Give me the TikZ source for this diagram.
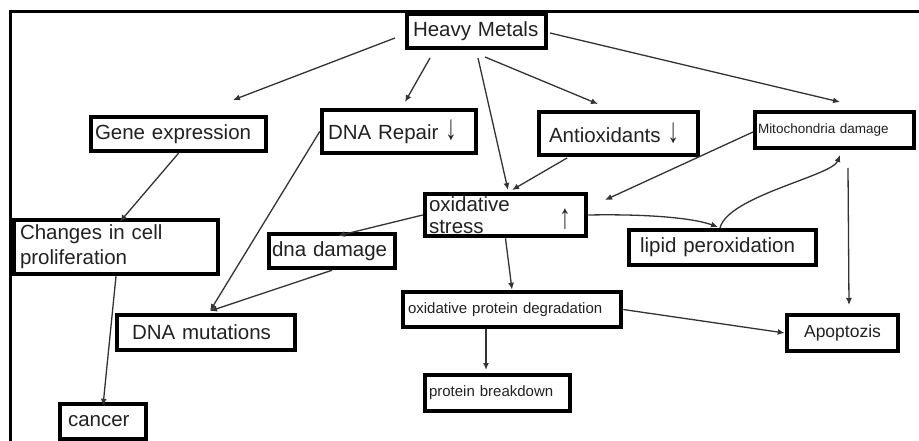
\documentclass[tikz,border=0pt]{standalone}
\usepackage{fontspec}
\setmainfont{Liberation Sans}
\usetikzlibrary{arrows.meta,calc}
\definecolor{txt}{HTML}{222222}
\definecolor{ln}{HTML}{333333}
\newcommand{\dnarrow}{\scalebox{1.1}[1.7]{↓}}
\newcommand{\uparr}{\scalebox{1.1}[1.7]{↑}}
\begin{document}
\begin{tikzpicture}[x=1pt,y=-1pt,
  box/.style={draw=black, line width=4.5pt, inner ysep=0pt, align=left, text=txt,
    font=\fontsize{20.5}{24}\selectfont},
  smallbox/.style={box, font=\fontsize{15}{18}\selectfont},
  arr/.style={draw=ln, line width=1.3pt, -{Latex[length=7pt,width=6pt]}},
  glyph/.style={inner sep=0pt, text=txt, font=\fontsize{20.5}{24}\selectfont}
]
\useasboundingbox (0,0) rectangle (919,441);
\fill[white] (0,0) rectangle (919,441);
\begin{scope}
  \clip (0,0) rectangle (919,441);
  \draw[line width=3pt] (10,12) rectangle (945,470);

  % boxes
  \node[box, minimum width=139pt, minimum height=34pt, inner xsep=6pt, text width=127pt] (hm) at (476.5,31) {Heavy Metals};
  \node[box, minimum width=175pt, minimum height=34pt, inner xsep=4pt, text width=167pt] (gene) at (178.5,134) {Gene expression};
  \node[box, minimum width=154pt, minimum height=43pt, inner xsep=6pt, text width=142pt] (repair) at (399,131.5) {DNA Repair \dnarrow};
  \node[box, minimum width=159pt, minimum height=43pt, inner xsep=10pt, text width=139pt] (anti) at (618.5,133.5) {Antioxidants \dnarrow};
  \node[box, minimum width=159pt, minimum height=36pt, inner xsep=3pt, text width=153pt, font=\fontsize{13.5}{16}\selectfont] (mito) at (834.5,130) {Mitochondria damage};
  \node[box, minimum width=161pt, minimum height=42pt, inner xsep=4pt, text width=153pt, font=\fontsize{20.5}{22}\selectfont] (ox) at (505.5,215) {oxidative\\stress};
  \node[glyph] (oxup) at (565,219) {\uparr};
  \node[box, minimum width=204pt, minimum height=54pt, inner xsep=6pt, text width=192pt, font=\fontsize{20.5}{25}\selectfont] (changes) at (116,247) {Changes in cell\\proliferation};
  \node[box, minimum width=126pt, minimum height=34pt, inner xsep=3pt, text width=120pt] (dnad) at (332,251) {dna damage};
  \node[box, minimum width=187pt, minimum height=35pt, inner xsep=11pt, text width=165pt] (lipid) at (722.5,247.5) {lipid peroxidation};
  \node[box, minimum width=178pt, minimum height=35pt, inner xsep=15pt, text width=148pt] (mut) at (206,332.5) {DNA mutations};
  \node[smallbox, minimum width=218pt, minimum height=35pt, inner xsep=5pt, text width=208pt] (opd) at (512,309.5) {oxidative protein degradation};
  \node[smallbox, minimum width=145pt, minimum height=36pt, inner xsep=4pt, text width=137pt] (pb) at (497.5,393) {protein breakdown};
  \node[box, minimum width=111pt, minimum height=36pt, inner xsep=8pt, text width=95pt, align=center, font=\fontsize{17.5}{20}\selectfont] (apo) at (842.5,333) {Apoptozis};
  \node[box, minimum width=86pt, minimum height=35pt, inner xsep=8pt, text width=70pt] (cancer) at (103,421.5) {cancer};

  % free ends of connectors
  \coordinate (hmA) at (395,38);   \coordinate (geneT) at (233,100);
  \coordinate (hmB) at (430,58);   \coordinate (repT) at (405,102);
  \coordinate (hmC) at (485,57);   \coordinate (antiT) at (598,104);
  \coordinate (hmD) at (550,33);   \coordinate (mitoT) at (840,102);
  \coordinate (hmE) at (478,58);   \coordinate (oxT) at (508,190);
  \coordinate (antiB) at (567,158); \coordinate (oxT2) at (512,190);
  \coordinate (mitoL) at (753,132); \coordinate (oxR) at (605,200);
  \coordinate (lipT) at (718,227); \coordinate (lipS) at (720,228);
  \coordinate (mitoB) at (840,155);
  \coordinate (mitoB2) at (848,168); \coordinate (apoT) at (849,305);
  \coordinate (opdB) at (486,329); \coordinate (pbT) at (486,370);
  \coordinate (mutT) at (210,311);

  % connectors
  \draw[arr] (hmA) -- (geneT);
  \draw[arr] (hmB) -- (repT);
  \draw[arr] (hmC) -- (antiT);
  \draw[arr] (hmD) -- (mitoT);
  \draw[arr] (hmE) -- (oxT);
  \draw[arr] (antiB) -- (oxT2);
  \draw[arr] (mitoL) -- (oxR);
  \draw[arr] (ox.east) .. controls (640,214) and (690,217) .. (lipT);
  \draw[arr] (lipS) .. controls (728,196) and (832,176) .. (mitoB);
  \draw[arr] (mitoB2) -- (apoT);
  \draw[arr] (opd.east) -- (apo.west);
  \draw[arr] (opdB) -- (pbT);
  \draw[arr] (ox.south) -- (opd.north);
  \draw[arr] (ox.west) -- ([xshift=6pt,yshift=-4pt]dnad.north);
  \draw[arr] (dnad.south) -- (mutT);
  \draw[arr] (repair.west) -- (mutT);
  \draw[arr] (gene.south) -- ([xshift=4pt,yshift=-4pt]changes.north);
  \draw[arr] (changes.south) -- ([yshift=-4pt]cancer.north);
\end{scope}
\end{tikzpicture}
\end{document}
